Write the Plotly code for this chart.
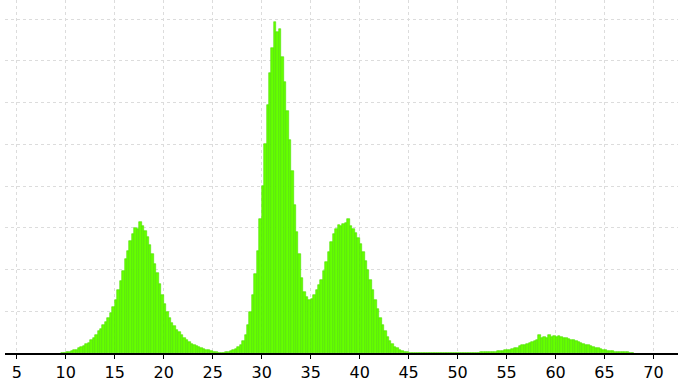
import numpy as np
import plotly.graph_objects as go

# histogram bins: left edge of first bin and bin width
bin_start = 9.5
bin_width = 0.25

# bin heights (counts), one per 0.25-wide bin from 9.5
peak1 = [0, 10, 20, 30, 40, 60, 80, 110, 140, 170, 210, 250, 300, 360, 440, 520,
         580, 660, 740, 840, 960, 1100, 1280, 1500, 1720, 1960, 2250, 2450, 2680, 2850,
         3000, 2980, 3140, 3050, 2920, 2780, 2580, 2360, 2140, 1920, 1650, 1400, 1180, 980,
         840, 720, 640, 560, 500, 430, 360, 310, 260, 220, 190, 160, 140, 120, 100, 80,
         60, 40, 30, 20, 10, 10]
peak2_3 = [10, 20, 30, 40, 70, 100, 140, 200, 280, 420, 680, 980, 1400, 1900, 2450, 3200,
           4000, 5000, 5950, 6700, 7300, 7920, 7700, 7760, 7100, 6500, 5800, 5100, 4350, 3550,
           2900, 2360, 1800, 1450, 1330, 1280, 1300, 1380, 1500, 1620, 1760, 1960, 2180, 2420,
           2660, 2850, 2960, 3060, 3040, 3100, 3120, 3220, 3050, 2980, 2880, 2760, 2600, 2420,
           2200, 1980, 1750, 1500, 1260, 1060, 840, 660, 520, 380, 280, 210, 150, 110,
           70, 50, 30, 20, 10]
gap = [0] * 25
peak4 = [10, 10, 10, 15, 16, 20, 22, 25, 30, 35, 40, 50, 55, 60, 70, 80,
         100, 110, 130, 160, 180, 200, 220, 240, 270, 290, 320, 420, 360, 380, 360, 420,
         390, 400, 380, 400, 390, 370, 360, 330, 310, 300, 280, 260, 240, 220, 200, 180,
         160, 140, 120, 110, 100, 80, 65, 55, 45, 40, 32, 28, 24, 20, 16, 14, 10, 8]

counts = peak1 + peak2_3 + gap + peak4

x_ticks = [5, 10, 15, 20, 25, 30, 35, 40, 45, 50, 55, 60, 65, 70]

centers = bin_start + bin_width * (np.arange(len(counts)) + 0.5)

fig = go.Figure(
    go.Bar(
        x=centers,
        y=counts,
        width=bin_width,
        marker=dict(color="#66ff00", line=dict(color="#4fe000", width=0.6)),
    )
)

fig.update_layout(
    width=678,
    height=384,
    margin=dict(l=5, r=0, t=0, b=31),
    paper_bgcolor="white",
    plot_bgcolor="white",
    bargap=0,
    showlegend=False,
    font=dict(family="DejaVu Sans", size=16, color="#000000"),
)

fig.update_xaxes(
    range=[3.8, 72.5],
    tickmode="array",
    tickvals=x_ticks,
    ticktext=[str(v) for v in x_ticks],
    showgrid=True,
    gridcolor="#dcdcdc",
    griddash="dot",
    gridwidth=1,
    showline=True,
    linecolor="black",
    linewidth=1.5,
    ticks="outside",
    ticklen=4,
    tickcolor="black",
    zeroline=False,
)

fig.update_yaxes(
    range=[0, 8455],
    dtick=1000,
    showticklabels=False,
    showgrid=True,
    gridcolor="#dcdcdc",
    griddash="dot",
    gridwidth=1,
    zeroline=False,
    showline=False,
)

fig.write_html("out.html")
